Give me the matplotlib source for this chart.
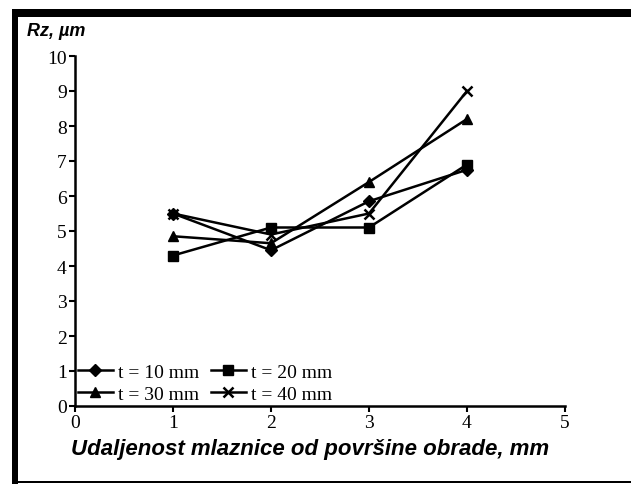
import matplotlib
matplotlib.use("Agg")
import matplotlib.pyplot as plt
from matplotlib.patches import Rectangle

# distance from the machined surface, mm
distance = [1, 2, 3, 4]

# Rz, um for each nozzle offset t
rz_t10 = [5.5, 4.45, 5.85, 6.75]
rz_t20 = [4.3, 5.1, 5.1, 6.9]
rz_t30 = [4.85, 4.65, 6.4, 8.2]
rz_t40 = [5.5, 4.9, 5.5, 9.0]

labels = ["t = 10 mm", "t = 20 mm", "t = 30 mm", "t = 40 mm"]
markers = ["D", "s", "^", "x"]

W, H = 631, 485
fig = plt.figure(figsize=(W / 100, H / 100), dpi=100)
ax = fig.add_axes([75 / W, 1 - 407 / H, 490 / W, 350 / H])

serif = "Liberation Serif"
sans = "Liberation Sans"

series = [rz_t10, rz_t20, rz_t30, rz_t40]
sizes = [6, 7, 7, 7]
handles = []
for ys, lab, mk, ms in zip(series, labels, markers, sizes):
    h, = ax.plot(distance, ys, color="black", linewidth=1.8, marker=mk, markersize=ms,
                 markeredgewidth=1.8 if mk == "x" else 1.0, label=lab)
    handles.append(h)

ax.set_xlim(0, 5)
ax.set_ylim(0, 10)
ax.set_xticks(range(0, 6))
ax.set_yticks(range(0, 11))
ax.spines["top"].set_visible(False)
ax.spines["right"].set_visible(False)
for sp in ("left", "bottom"):
    ax.spines[sp].set_linewidth(1.8)
ax.tick_params(direction="out", length=4, width=1.5, pad=2, labelsize=14)
for t in ax.get_xticklabels() + ax.get_yticklabels():
    t.set_fontfamily(serif)

# legend fills row by row: 10, 20 / 30, 40
order = [0, 2, 1, 3]
ax.legend([handles[i] for i in order], [labels[i] for i in order],
          loc="lower left", bbox_to_anchor=(0.0, 0.0), ncol=2, frameon=False,
          prop={"family": serif, "size": 14}, handlelength=1.8,
          handletextpad=0.25, columnspacing=0.6, labelspacing=0.25,
          borderpad=0.15, borderaxespad=0.0)

fig.text(27 / W, 1 - 31 / H, "Rz, µm", family=sans, weight="bold", style="italic",
         fontsize=13, va="center", ha="left")
fig.text(310 / W, 1 - 450 / H, "Udaljenost mlaznice od površine obrade, mm", family=sans,
         weight="bold", style="italic", fontsize=16, va="center", ha="center")

# frame around the figure
fig.add_artist(Rectangle((12 / W, 1 - 18 / H), 1, 8 / H, transform=fig.transFigure,
                         facecolor="black", edgecolor="none"))
fig.add_artist(Rectangle((12 / W, 0), 6 / W, 1 - 10 / H, transform=fig.transFigure,
                         facecolor="black", edgecolor="none"))
fig.add_artist(Rectangle((12 / W, 1 / H), 1, 2 / H, transform=fig.transFigure,
                         facecolor="black", edgecolor="none"))

fig.savefig("out.png", dpi=100)
